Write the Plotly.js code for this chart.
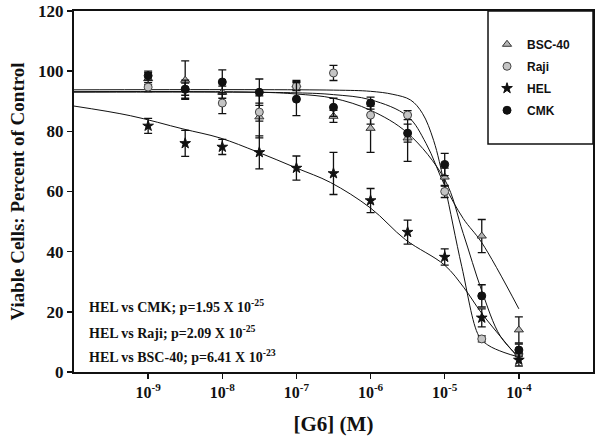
<!DOCTYPE html>
<html>
<head>
<meta charset="utf-8">
<script src="https://cdn.plot.ly/plotly-3.0.1.min.js"></script>
<style>html,body{margin:0;padding:0;background:#fff;}#chart{width:600px;height:442px;}</style>
</head>
<body>
<div id="chart"></div>
<script>
// Concentrations of G6 (M)
const conc = [1e-9, 3.16e-9, 1e-8, 3.16e-8, 1e-7, 3.16e-7, 1e-6, 3.16e-6, 1e-5, 3.16e-5, 1e-4];

// Viable cells, percent of control (mean) and error
const bsc40 = [97.5, 97, 93, 84.8, 95.4, 85, 81, 77.8, 64.8, 45.2, 14];
const bsc40Err = [2, 6.4, 2, 7, 1.5, 2, 8, 7.8, 3, 5.5, 4.3];
const raji = [94.7, 94, 89.4, 86.4, 95, 99.4, 85.4, 85.4, 60, 11, 6];
const rajiErr = [1.5, 3, 3.5, 3, 1.5, 2.5, 3, 1.5, 2, 1, 1.5];
const hel = [81.8, 76, 74.8, 73, 67.8, 66, 57, 46.5, 38.2, 18, 4];
const helErr = [2.5, 4.3, 2.5, 5.5, 4, 7, 4, 4, 2.7, 3, 2];
const cmk = [98.5, 94, 96.4, 93, 90.7, 88, 89.4, 79.4, 69, 25.3, 7.3];
const cmkErr = [1.5, 2, 4, 4.4, 5.5, 3, 2, 3, 3.7, 3.7, 2];

// Fitted curves
const fitHelX = [1e-10, 5.75e-10, 2.95e-9, 9.33e-9, 2.95e-8, 1e-7, 2.88e-7, 1e-6, 2.95e-6, 1e-5, 1.82e-5, 3.16e-5, 1e-4];
const fitHelY = [88.4, 85.2, 80.8, 77.8, 73.2, 67.8, 63, 54.5, 44, 35.5, 28, 19.5, 4.5];
const fitRajiX = [1e-10, 3.16e-7, 1e-6, 2e-6, 3.47e-6, 5e-6, 7.08e-6, 1e-5, 1.7e-5, 2.88e-5, 3.8e-5, 6.3e-5, 1e-4];
const fitRajiY = [93.8, 93.7, 93.3, 92.3, 90.4, 86, 77, 62, 35, 12, 9, 6.5, 5];
const fitBscX = [1e-10, 1e-7, 3.16e-7, 1e-6, 3.16e-6, 5.6e-6, 1e-5, 1.78e-5, 3.16e-5, 1e-4];
const fitBscY = [93.0, 92.8, 92.2, 90.5, 85, 76, 62, 51, 43, 21];
const fitCmkX = [1e-10, 3.16e-8, 1e-7, 3.16e-7, 1e-6, 3.16e-6, 1e-5, 1.78e-5, 3.16e-5, 5.6e-5, 1e-4];
const fitCmkY = [93.2, 93, 92.4, 91, 87, 79.4, 64, 46, 27, 12, 5];

const tickVals = [1e-9, 1e-8, 1e-7, 1e-6, 1e-5, 1e-4];
const tickText = ['10<sup>-9</sup>', '10<sup>-8</sup>', '10<sup>-7</sup>', '10<sup>-6</sup>', '10<sup>-5</sup>', '10<sup>-4</sup>'];

const serif = 'Liberation Serif, Times New Roman, serif';
const sans = 'Liberation Sans, Arial, sans-serif';

function curve(x, y) {
  return {x: x, y: y, type: 'scatter', mode: 'lines', showlegend: false, hoverinfo: 'skip',
          line: {color: '#111', width: 1, shape: 'spline', smoothing: 1}};
}
function pts(name, y, err, symbol, fill, outline, size) {
  return {x: conc, y: y, name: name, type: 'scatter', mode: 'markers', legendgroup: name,
          marker: {symbol: symbol, size: size, color: fill, line: {color: outline, width: 1}},
          error_y: {type: 'data', array: err, visible: true, color: '#111', thickness: 1.3, width: 4}};
}

const data = [
  curve(fitHelX, fitHelY),
  curve(fitRajiX, fitRajiY),
  curve(fitBscX, fitBscY),
  curve(fitCmkX, fitCmkY),
  pts('BSC-40', bsc40, bsc40Err, 'triangle-up', '#b4b4b4', '#333', 8),
  pts('Raji', raji, rajiErr, 'circle', '#c4c4c4', '#444', 8),
  pts('HEL', hel, helErr, 'star', '#111', '#111', 8),
  pts('CMK', cmk, cmkErr, 'circle', '#111', '#111', 8)
];

const layout = {
  width: 600, height: 442,
  margin: {l: 74, r: 7, t: 11, b: 70},
  paper_bgcolor: '#fff', plot_bgcolor: '#fff',
  showlegend: true,
  legend: {x: 0.7958, y: 0.948, xanchor: 'left', yanchor: 'top', bgcolor: 'rgba(0,0,0,0)',
           borderwidth: 0, traceorder: 'grouped', tracegroupgap: 3,
           font: {family: sans, size: 12, color: '#111', weight: 'bold'}},
  xaxis: {type: 'log', range: [-10, -3], tickvals: tickVals, ticktext: tickText,
          showgrid: false, zeroline: false, showline: true, linecolor: '#111', linewidth: 2, mirror: true,
          ticks: 'outside', ticklen: 5, tickwidth: 1.5, tickcolor: '#111',
          tickfont: {family: serif, size: 16, color: '#111', weight: 'bold'},
          title: {text: '[G6] (M)', standoff: 16, font: {family: serif, size: 21, color: '#111', weight: 'bold'}}},
  yaxis: {range: [0, 120], tickvals: [0, 20, 40, 60, 80, 100, 120],
          showgrid: false, zeroline: false, showline: true, linecolor: '#111', linewidth: 2, mirror: true,
          ticks: 'outside', ticklen: 5, tickwidth: 1.5, tickcolor: '#111',
          tickfont: {family: serif, size: 17, color: '#111', weight: 'bold'},
          title: {text: 'Viable Cells: Percent of Control', standoff: 8, font: {family: serif, size: 19, color: '#111', weight: 'bold'}}},
  shapes: [{type: 'rect', xref: 'paper', yref: 'paper', x0: 0.7977, x1: 1, y0: 0.6316, y1: 1,
            line: {color: '#111', width: 1.5}}],
  annotations: [
    {text: 'HEL vs CMK; p=1.95 X 10<sup>-25</sup>', xref: 'paper', yref: 'paper', x: 0.025, y: 0.183, xanchor: 'left', yanchor: 'middle', showarrow: false, font: {family: serif, size: 14, color: '#111', weight: 'bold'}},
    {text: 'HEL vs Raji; p=2.09 X 10<sup>-25</sup>', xref: 'paper', yref: 'paper', x: 0.025, y: 0.111, xanchor: 'left', yanchor: 'middle', showarrow: false, font: {family: serif, size: 14, color: '#111', weight: 'bold'}},
    {text: 'HEL vs BSC-40; p=6.41 X 10<sup>-23</sup>', xref: 'paper', yref: 'paper', x: 0.025, y: 0.044, xanchor: 'left', yanchor: 'middle', showarrow: false, font: {family: serif, size: 14, color: '#111', weight: 'bold'}}
  ]
};

Plotly.newPlot('chart', data, layout, {displayModeBar: false, staticPlot: true});
</script>
</body>
</html>
